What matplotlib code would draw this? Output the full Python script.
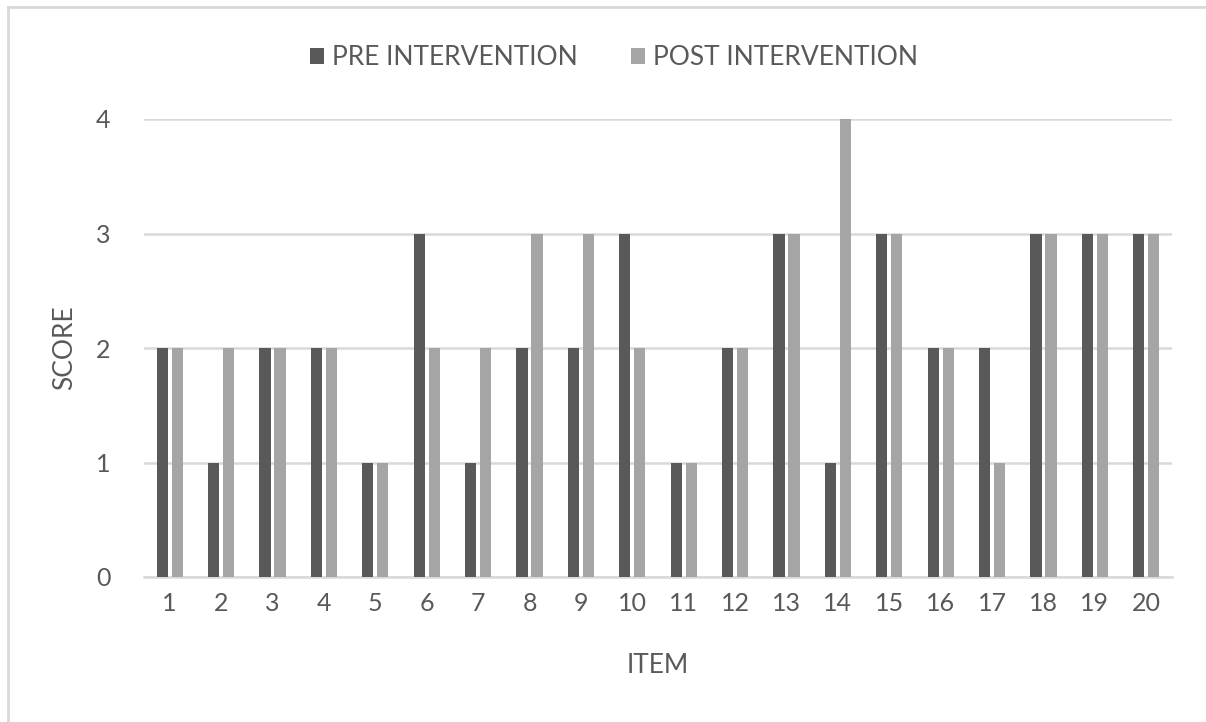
import matplotlib
matplotlib.use('Agg')
import matplotlib.pyplot as plt
import numpy as np

items = [str(i) for i in range(1, 21)]
pre = [2, 1, 2, 2, 1, 3, 1, 2, 2, 3, 1, 2, 3, 1, 3, 2, 2, 3, 3, 3]
post = [2, 2, 2, 2, 1, 2, 2, 3, 3, 2, 1, 2, 3, 4, 3, 2, 1, 3, 3, 3]

plt.rcParams['font.family'] = ['Lato', 'DejaVu Sans']
text_col = '#595959'

fig = plt.figure(figsize=(12.06, 7.22), dpi=100)
ax = fig.add_axes([144 / 1206, 145 / 722, 1028 / 1206, 458 / 722])

# outer chart border (only left and top visible in the original)
fig.add_artist(plt.Line2D([8 / 1206, 8 / 1206], [0, 1 - 7 / 722], transform=fig.transFigure,
                          color='#d9d9d9', lw=2))
fig.add_artist(plt.Line2D([8 / 1206, 1], [1 - 7 / 722, 1 - 7 / 722], transform=fig.transFigure,
                          color='#d9d9d9', lw=2))

x = np.arange(len(items))
w = 0.215
ax.bar(x - 0.146, pre, width=w, color='#595959', label='PRE INTERVENTION', zorder=3)
ax.bar(x + 0.146, post, width=w, color='#a5a5a5', label='POST INTERVENTION', zorder=3)

ax.set_xlim(-0.5, len(items) - 0.5)
ax.set_ylim(0, 4)
ax.set_yticks([0, 1, 2, 3, 4])
ax.set_xticks(x)
ax.set_xticklabels(items)
ax.yaxis.grid(True, color='#d9d9d9', lw=1.8, zorder=0)
ax.set_axisbelow(True)
for s in ['top', 'right', 'left']:
    ax.spines[s].set_visible(False)
ax.spines['bottom'].set_color('#d9d9d9')
ax.spines['bottom'].set_linewidth(1.8)
ax.tick_params(axis='both', length=0, labelsize=18, labelcolor=text_col)
ax.tick_params(axis='y', pad=24)
ax.tick_params(axis='x', pad=11)

ax.set_xlabel('ITEM', fontsize=19, color=text_col, labelpad=27)
ax.set_ylabel('SCORE', fontsize=19, color=text_col, labelpad=14)

ax.legend(loc='center', bbox_to_anchor=(0.457, 1.134), ncol=2, frameon=False, fontsize=19,
          labelcolor=text_col, handlelength=0.55, handleheight=0.55, handletextpad=0.3,
          columnspacing=2.0)

fig.savefig('out.png', dpi=100)
